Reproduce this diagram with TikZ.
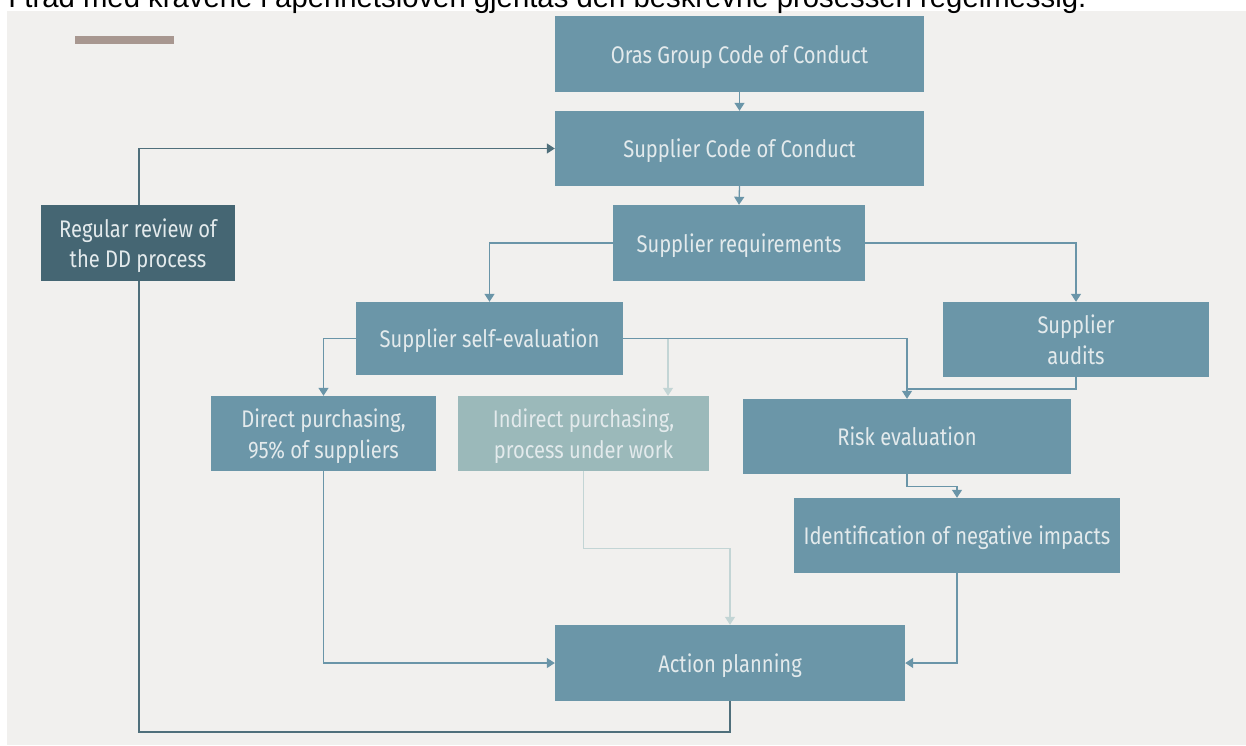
\documentclass[tikz,border=0pt]{standalone}
\usepackage{fontspec}
\setmainfont{Fira Sans}[FakeStretch=0.84]
\newfontfamily\topfont{Liberation Sans}
\usetikzlibrary{arrows.meta}
\definecolor{panel}{HTML}{F1F0EE}
\definecolor{barc}{HTML}{A89790}
\definecolor{boxc}{HTML}{6B96A8}
\definecolor{darkbox}{HTML}{456673}
\definecolor{lightbox}{HTML}{9BB9BA}
\definecolor{txtc}{HTML}{E3EAEC}
\definecolor{linec}{HTML}{6A95A8}
\definecolor{darkline}{HTML}{4F6F7B}
\definecolor{lightline}{HTML}{C3D5D5}
\pgfdeclarelayer{bg}
\pgfdeclarelayer{edges}
\pgfsetlayers{bg,edges,main}
\begin{document}
\begin{tikzpicture}[x=1pt,y=-1pt,
  box/.style={fill=boxc, text=txtc, inner sep=0pt, align=center, text depth=0pt,
    font=\fontsize{24}{30.5}\selectfont},
  darkstyle/.style={box, fill=darkbox},
  lightstyle/.style={box, fill=lightbox},
  conn/.style={draw=linec, line width=1.3pt, -{Triangle[width=10pt,length=8pt]}},
  plainconn/.style={draw=linec, line width=1.3pt},
  lconn/.style={draw=lightline, line width=1.3pt, -{Triangle[width=10pt,length=8pt]}},
  dconn/.style={draw=darkline, line width=1.3pt, -{Triangle[width=10pt,length=8pt]}}
]
\useasboundingbox (0,0) rectangle (1246,745);
\clip (0,0) rectangle (1246,745);
\begin{pgfonlayer}{bg}
\fill[white] (0,0) rectangle (1246,745);
\fill[panel] (7,11) rectangle (1246,745);
\end{pgfonlayer}
\node[anchor=base west, inner sep=0pt, font=\topfont\fontsize{29.3}{31}\selectfont, text=black] (toptext) at (8,7)
  {I tråd med kravene i åpenhetsloven gjentas den beskrevne prosessen regelmessig.};
\fill[barc] (75,36) rectangle (174,44);

\node[box, minimum width=369pt, minimum height=76pt] (oras) at (739.5,54) {Oras Group Code of Conduct};
\node[box, minimum width=369pt, minimum height=75pt] (scoc) at (739.5,148.5) {Supplier Code of Conduct};
\node[box, minimum width=252pt, minimum height=76pt] (sreq) at (739,243) {Supplier requirements};
\node[darkstyle, minimum width=194pt, minimum height=76pt] (review) at (138,243) {Regular review of\\the DD process};
\node[box, minimum width=267pt, minimum height=73pt] (selfev) at (489.5,338.5) {Supplier self-evaluation};
\node[box, minimum width=266pt, minimum height=75pt] (audits) at (1076,339.5) {Supplier\\audits};
\node[box, minimum width=225pt, minimum height=75pt] (direct) at (323.5,433.5) {Direct purchasing,\\95\% of suppliers};
\node[lightstyle, minimum width=251pt, minimum height=75pt] (indirect) at (583.5,433.5) {Indirect purchasing,\\process under work};
\node[box, minimum width=328pt, minimum height=75pt] (risk) at (907,436.5) {Risk evaluation};
\node[box, minimum width=326pt, minimum height=75pt] (ident) at (957,535.5) {Identification of negative impacts};
\node[box, minimum width=350pt, minimum height=76pt] (action) at (730,663) {Action planning};

\coordinate (br) at (668,338.5);
\coordinate (rm) at (907,389);
\coordinate (lb) at (139,732);

\begin{pgfonlayer}{edges}
\draw[conn] (oras.south) -- (scoc.north);
\draw[conn] (scoc.south) -- (sreq.north);
\draw[conn] (sreq.west) -| (selfev.north);
\draw[conn] (sreq.east) -| (audits.north);
\draw[conn] (selfev.west) -| (direct.north);
\draw[conn] (selfev.east) -| (risk.north);
\draw[lconn] (br) -- (br |- indirect.north);
\draw[plainconn] (audits.south) |- (rm);
\draw[conn] (risk.south) -- ++(0,12.5) -| (ident.north);
\draw[conn] (ident.south) |- (action.east);
\draw[conn] (direct.south) |- (action.west);
\draw[lconn] (indirect.south) -- ++(0,77.5) -| (action.north);
\draw[dconn] (action.south) |- (lb) |- (scoc.west);
\end{pgfonlayer}
\end{tikzpicture}
\end{document}
